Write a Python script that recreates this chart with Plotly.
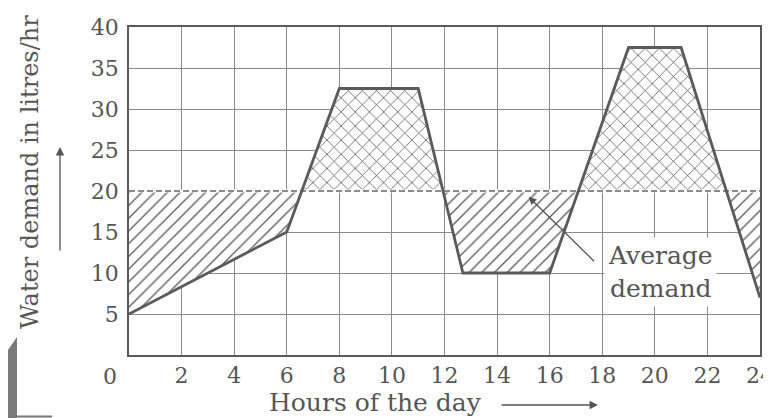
import numpy as np
import plotly.graph_objects as go

# ---- data ----
hours = [0, 6, 8, 11, 12.7, 16, 19, 21, 24]
demand = [5, 15, 32.5, 32.5, 10, 10, 37.5, 37.5, 7]
average_demand = 20
x_ticks = [2, 4, 6, 8, 10, 12, 14, 16, 18, 20, 22, 24]
y_ticks = [5, 10, 15, 20, 25, 30, 35, 40]

# insert crossing points with the average line
xs, ys = [], []
for i in range(len(hours)):
    xs.append(hours[i]); ys.append(demand[i])
    if i < len(hours) - 1:
        d0, d1 = demand[i] - average_demand, demand[i + 1] - average_demand
        if d0 * d1 < 0:
            t = d0 / (d0 - d1)
            xs.append(hours[i] + t * (hours[i + 1] - hours[i]))
            ys.append(average_demand)
ys = np.array(ys)
below = np.minimum(ys, average_demand)
above = np.maximum(ys, average_demand)
base = [average_demand] * len(xs)

INK = "#5a5a5a"
GRID = "#8a8a8a"
HATCH = "#555555"
FONT = "DejaVu Serif"

fig = go.Figure()
fig.add_trace(go.Scatter(x=xs, y=base, mode="lines", line=dict(width=0), hoverinfo="skip", showlegend=False))
fig.add_trace(go.Scatter(x=xs, y=below, mode="lines", line=dict(width=0), fill="tonexty",
                         fillcolor="rgba(0,0,0,0)",
                         fillpattern=dict(shape="/", size=9, solidity=0.14, fgcolor=HATCH,
                                          bgcolor="rgba(255,255,255,1)", fillmode="replace"),
                         hoverinfo="skip", showlegend=False))
fig.add_trace(go.Scatter(x=xs, y=base, mode="lines", line=dict(width=0), hoverinfo="skip", showlegend=False))
fig.add_trace(go.Scatter(x=xs, y=above, mode="lines", line=dict(width=0), fill="tonexty",
                         fillcolor="rgba(0,0,0,0)",
                         fillpattern=dict(shape="x", size=10, solidity=0.15, fgcolor=HATCH,
                                          bgcolor="rgba(255,255,255,1)", fillmode="replace"),
                         hoverinfo="skip", showlegend=False))
# average line (white underlay hides grid line, dashed on top)
fig.add_trace(go.Scatter(x=[hours[0], hours[-1]], y=[average_demand] * 2, mode="lines",
                         line=dict(color="white", width=3), hoverinfo="skip", showlegend=False))
fig.add_trace(go.Scatter(x=[hours[0], hours[-1]], y=[average_demand] * 2, mode="lines",
                         line=dict(color="#666666", width=1.7, dash="6px,3px"), showlegend=False))
# demand curve
fig.add_trace(go.Scatter(x=hours, y=demand, mode="lines",
                         line=dict(color=INK, width=2.8), showlegend=False))

fig.update_xaxes(range=[0, 24], tickvals=x_ticks, ticktext=[str(v) for v in x_ticks],
                 showgrid=True, gridcolor=GRID, gridwidth=1.2, zeroline=False,
                 showline=True, linecolor=INK, linewidth=1.6, mirror=True,
                 ticks="", ticklabelstandoff=0, automargin=False, ticklabeloverflow="allow",
                 tickfont=dict(family=FONT, size=22, color="#555"))
fig.update_yaxes(range=[0, 40], tickvals=y_ticks, ticktext=[str(v) for v in y_ticks],
                 showgrid=True, gridcolor=GRID, gridwidth=1.2, zeroline=False,
                 showline=True, linecolor=INK, linewidth=1.6, mirror=True,
                 ticks="", ticklabelstandoff=4, automargin=False, ticklabeloverflow="allow",
                 tickfont=dict(family=FONT, size=22, color="#555"))

# page body adds an 8px offset; screen coordinates below are converted
OFF = 8
FW, FH = 771 - OFF, 418 - OFF
L, T = 129 - OFF, 27 - OFF
R = FW - (760 - OFF)
B = FH - (355 - OFF)
W = FW - L - R
H = FH - T - B


def px(x):
    return (x - OFF - L) / W


def py(y):
    return (FH - B - (y - OFF)) / H


C = dict(xanchor="center", yanchor="middle")
ann = []
# corner "0"
ann.append(dict(x=px(110), y=py(376), xref="paper", yref="paper", text="0", showarrow=False,
                font=dict(family=FONT, size=22, color="#555"), **C))
# y title + arrow
ann.append(dict(x=px(30), y=py(172), xref="paper", yref="paper",
                text="Water demand in litres/hr", textangle=-90, showarrow=False,
                font=dict(family=FONT, size=24, color="#555"), **C))
ann.append(dict(x=px(60), y=py(147), xref="paper", yref="paper",
                text="", showarrow=True, ax=0, ay=105, arrowhead=2, arrowsize=1.3,
                arrowwidth=1.3, arrowcolor="#555"))
# x title + arrow
ann.append(dict(x=px(375), y=py(403), xref="paper", yref="paper",
                text="Hours of the day", showarrow=False,
                font=dict(family=FONT, size=25, color="#555"), **C))
ann.append(dict(x=px(598), y=py(405), xref="paper", yref="paper",
                text="", showarrow=True, ax=-98, ay=0, arrowhead=2, arrowsize=1.3,
                arrowwidth=1.3, arrowcolor="#555"))
# average demand label
ann.append(dict(x=20.2, y=10.1, xref="x", yref="y", text="Average<br>demand",
                showarrow=False, bgcolor="white", borderpad=3,
                font=dict(family=FONT, size=25, color="#555"), **C))
ann.append(dict(x=15.2, y=19.3, xref="x", yref="y", text="", showarrow=True,
                ax=67, ay=66, arrowhead=2, arrowsize=1.2, arrowwidth=1.3, arrowcolor="#555"))

shapes = [
    # scan artefacts
    dict(type="path", xref="paper", yref="paper",
         path=f"M {px(8)} {py(350)} L {px(17)} {py(337)} L {px(17)} {py(418)} L {px(8)} {py(418)} Z",
         fillcolor="#7a7a7a", line=dict(width=0), layer="above"),
    dict(type="line", xref="paper", yref="paper", x0=px(8), x1=px(52),
         y0=py(416.5), y1=py(416.5), line=dict(color="#777", width=2)),
]

fig.update_layout(width=FW, height=FH, margin=dict(l=L, r=R, t=T, b=B, autoexpand=False),
                  paper_bgcolor="white", plot_bgcolor="white",
                  annotations=ann, shapes=shapes, showlegend=False)
fig.write_html("out.html")
